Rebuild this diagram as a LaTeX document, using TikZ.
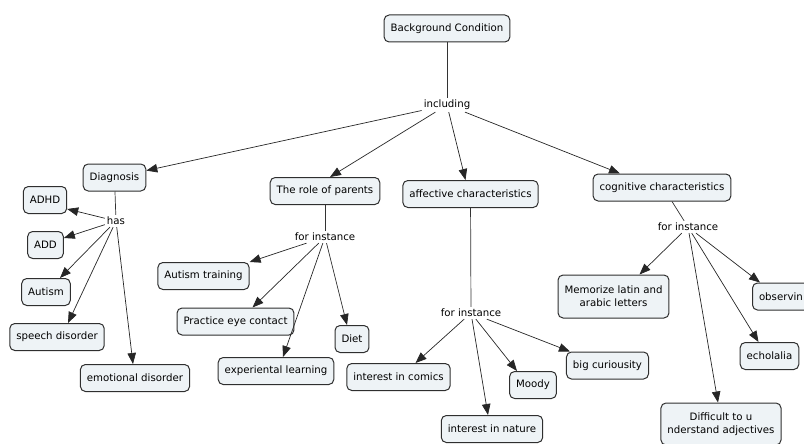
\documentclass[tikz,border=0pt]{standalone}
\usepackage{fontspec}
\setmainfont{DejaVu Sans}
\usetikzlibrary{arrows.meta}
\definecolor{boxfill}{HTML}{EEF3F6}
\definecolor{boxdraw}{HTML}{2F2F2F}
\begin{document}
\begin{tikzpicture}[x=1pt,y=-1pt,
  box/.style={draw=boxdraw, fill=boxfill, rounded corners=5pt, line width=1pt,
    inner xsep=6.5pt, inner ysep=3pt, minimum height=27pt, align=center,
    font=\fontsize{10.2}{13}\selectfont},
  lab/.style={inner sep=2pt, font=\fontsize{10.2}{12}\selectfont},
  arr/.style={-{Triangle[length=11pt,width=8.5pt]}, line width=0.7pt, draw=black!85},
  ln/.style={line width=0.7pt, draw=black!80}]
\useasboundingbox (0,0) rectangle (804,444);
% nodes
\node[box] (bg) at (447,28.5) {Background Condition};
\node[lab] (inc) at (447,105) {including};
\node[box] (dia) at (114.5,177.5) {Diagnosis};
\node[box] (par) at (325,191) {The role of parents};
\node[box] (aff) at (470.5,194) {affective characteristics};
\node[box] (cog) at (662,187.5) {cognitive characteristics};
\node[lab] (has) at (116,221) {has};
\node[box] (adhd) at (45,200) {ADHD};
\node[box] (add) at (45.5,245) {ADD};
\node[box] (aut) at (46,292) {Autism};
\node[box] (sp) at (57,337) {speech disorder};
\node[box] (emo) at (135,378) {emotional disorder};
\node[lab] (fa) at (325,237) {for instance};
\node[box] (at) at (203.5,276) {Autism training};
\node[box] (pec) at (235.5,321.5) {Practice eye contact};
\node[box] (diet) at (352,339) {Diet};
\node[box] (exp) at (276,371) {experiental learning};
\node[lab] (fb) at (471,313) {for instance};
\node[box] (com) at (398.5,377) {interest in comics};
\node[box] (moo) at (533,385) {Moody};
\node[box] (bc) at (607.5,365.5) {big curiousity};
\node[box] (nat) at (492,429) {interest in nature};
\node[lab] (fc) at (688,227) {for instance};
\node[box, minimum height=43pt] (mem) at (613.5,296.5) {Memorize latin and\\arabic letters};
\node[box, anchor=west] (obs) at (752,296.5) {observin\hspace*{20pt}};
\node[box] (echo) at (769.5,356) {echolalia};
\node[box, minimum height=42pt] (dif) at (721,424) {Difficult to u\\nderstand adjectives};
% connectors
\draw[ln] (bg) -- (inc);
\draw[arr] (inc) -- (dia);
\draw[arr] (inc) -- ([xshift=5pt]par.north);
\draw[arr] (inc) -- ([xshift=-5pt]aff.north);
\draw[arr] (inc) -- ([xshift=-42pt]cog.north);
\draw[ln] (dia) -- (has);
\draw[arr] (has) -- ([yshift=-9pt]adhd.east);
\draw[arr] (has) -- ([yshift=7pt]add.east);
\draw[arr] (has) -- ([xshift=14pt]aut.north);
\draw[arr] (has) -- ([xshift=11pt]sp.north);
\draw[arr] (has) -- ([xshift=-2pt]emo.north);
\draw[ln] (par) -- (fa);
\draw[arr] (fa) -- (at.north east);
\draw[arr] (fa) -- ([xshift=17pt]pec.north);
\draw[arr] (fa) -- ([xshift=7pt]exp.north);
\draw[arr] (fa) -- ([xshift=-5pt]diet.north);
\draw[ln] (aff) -- (fb);
\draw[arr] (fb) -- ([xshift=17pt]com.north);
\draw[arr] (fb) -- ([xshift=-4pt]nat.north);
\draw[arr] (fb) -- ([xshift=-16pt]moo.north);
\draw[arr] (fb) -- ([xshift=4pt]bc.north west);
\draw[ln] ([xshift=10pt]cog.south) -- (fc);
\draw[arr] (fc) -- ([xshift=26pt]mem.north);
\draw[arr] (fc) -- ([xshift=-3pt]dif.north);
\draw[arr] (fc) -- ([xshift=-11pt]echo.north);
\draw[arr] (fc) -- ([xshift=8pt]obs.north west);
\end{tikzpicture}
\end{document}
